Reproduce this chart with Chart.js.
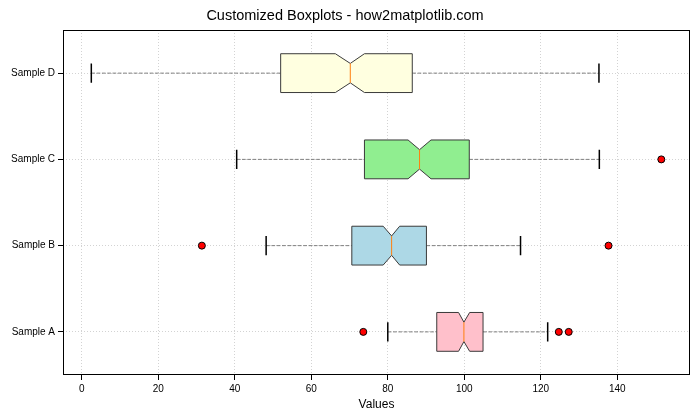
<!DOCTYPE html>
<html lang="en">
<head>
    <meta charset="UTF-8">
    <title>Customized Boxplots</title>
    <script src="https://cdn.jsdelivr.net/npm/chart.js"></script>
    <style>
        body { margin: 0; background: #fff; }
        .wrap { width: 700px; height: 420px; }
    </style>
</head>
<body>
<div class="wrap"><canvas id="boxChart" width="700" height="420"></canvas></div>
<script>
    // values
    const categories = ['Sample A', 'Sample B', 'Sample C', 'Sample D'];
    const whiskerLow = [80.0, 48.2, 40.5, 2.5];
    const q1 = [92.8, 70.6, 73.9, 52.0];
    const notchLow = [98.5, 78.8, 85.3, 66.3];
    const medians = [99.9, 81.0, 88.3, 70.2];
    const notchHigh = [101.4, 83.1, 91.3, 73.9];
    const q3 = [104.9, 90.1, 101.3, 86.4];
    const whiskerHigh = [121.8, 114.7, 135.3, 135.2];
    const outliersA = [73.6, 124.7, 127.3];
    const outliersB = [31.4, 137.7];
    const outliersC = [151.5];
    const outliersD = [];
    const xTicks = [0, 20, 40, 60, 80, 100, 120, 140];
    const boxColors = ['#ffc0cb', '#add8e6', '#90ee90', '#ffffe0'];

    const FONT = "'Liberation Sans', Arial, sans-serif";
    const boxWidth = 0.45;

    const outlierPoints = [outliersA, outliersB, outliersC, outliersD]
        .flatMap((arr, i) => arr.map(v => ({ x: v, y: i + 1 })));

    // boxes, notches, whiskers and caps drawn through the scales
    const boxPlugin = {
        id: 'boxes',
        beforeDatasetsDraw(chart) {
            const { ctx, scales: { x, y } } = chart;
            ctx.save();
            categories.forEach((c, i) => {
                const pos = i + 1;
                const yc = y.getPixelForValue(pos);
                const yt = y.getPixelForValue(pos + boxWidth / 2);
                const yb = y.getPixelForValue(pos - boxWidth / 2);
                const nt = y.getPixelForValue(pos + boxWidth / 4);
                const nb = y.getPixelForValue(pos - boxWidth / 4);
                const px = v => x.getPixelForValue(v);

                // whiskers
                ctx.strokeStyle = '#808080';
                ctx.lineWidth = 1;
                ctx.setLineDash([3.7, 1.6]);
                ctx.beginPath();
                ctx.moveTo(px(whiskerLow[i]), yc);
                ctx.lineTo(px(q1[i]), yc);
                ctx.moveTo(px(q3[i]), yc);
                ctx.lineTo(px(whiskerHigh[i]), yc);
                ctx.stroke();
                ctx.setLineDash([]);

                // caps
                ctx.strokeStyle = '#000';
                ctx.lineWidth = 1.5;
                ctx.beginPath();
                ctx.moveTo(px(whiskerLow[i]), nt);
                ctx.lineTo(px(whiskerLow[i]), nb);
                ctx.moveTo(px(whiskerHigh[i]), nt);
                ctx.lineTo(px(whiskerHigh[i]), nb);
                ctx.stroke();

                // notched box
                ctx.beginPath();
                ctx.moveTo(px(q1[i]), yt);
                ctx.lineTo(px(notchLow[i]), yt);
                ctx.lineTo(px(medians[i]), nt);
                ctx.lineTo(px(notchHigh[i]), yt);
                ctx.lineTo(px(q3[i]), yt);
                ctx.lineTo(px(q3[i]), yb);
                ctx.lineTo(px(notchHigh[i]), yb);
                ctx.lineTo(px(medians[i]), nb);
                ctx.lineTo(px(notchLow[i]), yb);
                ctx.lineTo(px(q1[i]), yb);
                ctx.closePath();
                ctx.fillStyle = boxColors[i];
                ctx.fill();
                ctx.strokeStyle = '#3a3a3a';
                ctx.lineWidth = 1;
                ctx.stroke();

                // median
                ctx.strokeStyle = '#ff7f0e';
                ctx.beginPath();
                ctx.moveTo(px(medians[i]), nt);
                ctx.lineTo(px(medians[i]), nb);
                ctx.stroke();
            });
            ctx.restore();
        },
        afterDraw(chart) {
            const { ctx, chartArea: a } = chart;
            ctx.save();
            ctx.strokeStyle = '#000';
            ctx.lineWidth = 1;
            ctx.strokeRect(a.left + 0.5, a.top + 0.5, a.right - a.left - 1, a.bottom - a.top - 1);
            ctx.restore();
        }
    };

    const gridOpts = {
        color: 'rgba(176,176,176,0.7)',
        lineWidth: 0.8,
        tickColor: '#000',
        tickLength: 5,
        tickWidth: 1,
        tickBorderDash: []
    };

    new Chart(document.getElementById('boxChart'), {
        type: 'scatter',
        data: {
            datasets: [{
                label: 'Outliers',
                data: outlierPoints,
                pointRadius: 3.5,
                pointHoverRadius: 3.5,
                backgroundColor: '#ff0000',
                borderColor: '#000',
                borderWidth: 1
            }]
        },
        options: {
            responsive: false,
            animation: false,
            layout: { padding: { left: 0, right: 10, top: 0, bottom: 8 } },
            plugins: {
                legend: { display: false },
                tooltip: { enabled: false },
                title: {
                    display: true,
                    text: 'Customized Boxplots - how2matplotlib.com',
                    color: '#000',
                    font: { family: FONT, size: 14.5, weight: 'normal' },
                    padding: { top: 7, bottom: 5.6 }
                }
            },
            scales: {
                x: {
                    type: 'linear',
                    min: -4.9,
                    max: 159,
                    afterBuildTicks: s => { s.ticks = xTicks.map(v => ({ value: v })); },
                    afterFit: s => { s.height = 37; },
                    grid: gridOpts,
                    border: { display: false, dash: [1, 2] },
                    ticks: { color: '#000', font: { family: FONT, size: 10 }, padding: 3, maxRotation: 0 },
                    title: { display: true, text: 'Values', color: '#000', font: { family: FONT, size: 12 }, padding: { top: 2, bottom: 0 } }
                },
                y: {
                    type: 'linear',
                    min: 0.5,
                    max: 4.5,
                    afterBuildTicks: s => { s.ticks = categories.map((c, i) => ({ value: i + 1 })); },
                    afterFit: s => { s.width = 63; },
                    grid: gridOpts,
                    border: { display: false, dash: [1, 2] },
                    ticks: {
                        color: '#000',
                        font: { family: FONT, size: 10 },
                        padding: 3,
                        callback: v => categories[v - 1]
                    }
                }
            }
        },
        plugins: [boxPlugin]
    });
</script>
</body>
</html>
